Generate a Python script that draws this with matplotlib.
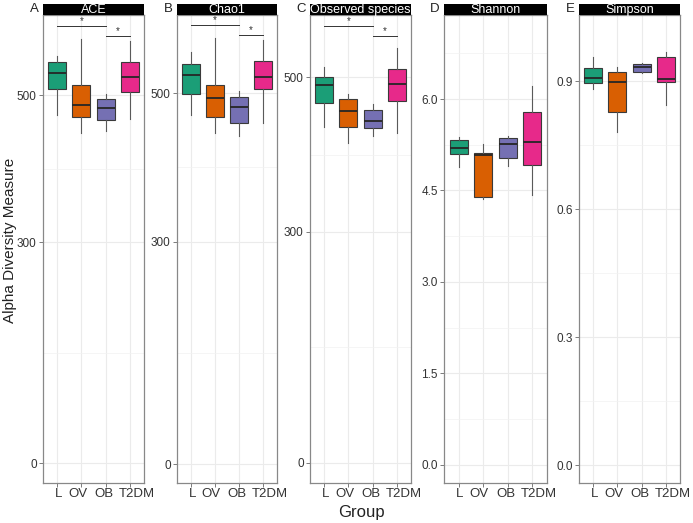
import matplotlib.pyplot as plt
from matplotlib.ticker import FixedLocator
from matplotlib.transforms import ScaledTranslation

plt.rcParams['font.family'] = ['Liberation Sans', 'DejaVu Sans']

groups = ['L', 'OV', 'OB', 'T2DM']
colors = ['#1B9E77', '#D95F02', '#7570B3', '#E7298A']

# box statistics, per measure, order L, OV, OB, T2DM
ace_whislo = [473, 449, 451, 468]
ace_q1 = [508, 471, 466, 504]
ace_med = [530, 487, 482, 525]
ace_q3 = [545, 514, 495, 545]
ace_whishi = [553, 577, 501, 573]

chao_whislo = [470, 446, 442, 460]
chao_q1 = [499, 468, 460, 505]
chao_med = [524, 493, 481, 521]
chao_q3 = [539, 511, 495, 543]
chao_whishi = [555, 574, 503, 572]

obs_whislo = [436, 415, 424, 428]
obs_q1 = [467, 436, 434, 470]
obs_med = [490, 456, 444, 492]
obs_q3 = [501, 472, 458, 511]
obs_whishi = [513, 478, 466, 538]

shan_whislo = [4.89, 4.36, 4.91, 4.42]
shan_q1 = [5.10, 4.40, 5.04, 4.92]
shan_med = [5.20, 5.08, 5.26, 5.29]
shan_q3 = [5.33, 5.11, 5.36, 5.79]
shan_whishi = [5.38, 5.26, 5.40, 6.21]

simp_whislo = [0.881, 0.781, 0.920, 0.845]
simp_q1 = [0.895, 0.827, 0.922, 0.898]
simp_med = [0.908, 0.899, 0.934, 0.904]
simp_q3 = [0.930, 0.922, 0.939, 0.957]
simp_whishi = [0.956, 0.932, 0.942, 0.968]

titles = ['ACE', 'Chao1', 'Observed species', 'Shannon', 'Simpson']
letters = ['A', 'B', 'C', 'D', 'E']
stats_all = [
    (ace_whislo, ace_q1, ace_med, ace_q3, ace_whishi),
    (chao_whislo, chao_q1, chao_med, chao_q3, chao_whishi),
    (obs_whislo, obs_q1, obs_med, obs_q3, obs_whishi),
    (shan_whislo, shan_q1, shan_med, shan_q3, shan_whishi),
    (simp_whislo, simp_q1, simp_med, simp_q3, simp_whishi),
]
yticks = [[0, 300, 500], [0, 300, 500], [0, 300, 500],
          [0, 1.5, 3, 4.5, 6], [0, 0.3, 0.6, 0.9]]
yminor = [[150, 400], [150, 400], [150, 400],
          [0.75, 2.25, 3.75, 5.25, 6.75], [0.15, 0.45, 0.75]]
ytick_labels = [['0', '300', '500'], ['0', '300', '500'], ['0', '300', '500'],
                ['0.0', '1.5', '3.0', '4.5', '6.0'], ['0.0', '0.3', '0.6', '0.9']]
ylims = [(-27, 609), (-25, 605), (-26, 581), (-0.30, 7.38), (-0.042, 1.055)]

# significance brackets: (group a, group b, height)
sig_pairs = [[(1, 3, 594), (3, 4, 581)],
             [(1, 3, 591), (3, 4, 578)],
             [(1, 3, 567), (3, 4, 554)],
             [], []]

W, H = 693, 523
lefts = [43, 177, 310, 444, 579]
widths = [101, 100, 101, 103, 101]
top, bottom = 15, 483
label_shift = [1, -4, -2, 7]  # px, the crowded x labels are nudged apart

fig = plt.figure(figsize=(W / 100, H / 100), dpi=100)

for i in range(5):
    l, w = lefts[i], widths[i]
    ax = fig.add_axes([l / W, (H - bottom) / H, w / W, (bottom - top) / H])
    wl, q1, med, q3, wh = stats_all[i]
    st = [dict(whislo=wl[k], q1=q1[k], med=med[k], q3=q3[k], whishi=wh[k], fliers=[])
          for k in range(4)]
    bp = ax.bxp(st, positions=[1, 2, 3, 4], widths=0.75, patch_artist=True,
                showfliers=False, showcaps=False,
                boxprops=dict(edgecolor='#3a3a3a', linewidth=0.8),
                medianprops=dict(color='#262626', linewidth=1.3),
                whiskerprops=dict(color='#5a5a5a', linewidth=0.8))
    for patch, c in zip(bp['boxes'], colors):
        patch.set_facecolor(c)

    for a, b, h in sig_pairs[i]:
        ax.plot([a, b], [h, h], color='#333333', linewidth=0.7)
        ax.text((a + b) / 2, h, '*', ha='center', va='bottom', fontsize=7,
                color='#333333')

    ax.set_xlim(0.4, 4.6)
    ax.set_ylim(*ylims[i])
    ax.set_xticks([1, 2, 3, 4])
    ax.set_xticklabels([''] * 4)
    for k, (g, dx) in enumerate(zip(groups, label_shift)):
        tr = ax.get_xaxis_transform() + ScaledTranslation(dx / 100, -5 / 100,
                                                          fig.dpi_scale_trans)
        ax.text(k + 1, 0, g, transform=tr, ha='center', va='top', fontsize=9.5,
                color='#333333', clip_on=False)
    ax.set_yticks(yticks[i])
    ax.set_yticklabels(ytick_labels[i], fontsize=8.5, color='#333333')
    ax.yaxis.set_minor_locator(FixedLocator(yminor[i]))
    ax.tick_params(axis='both', which='major', length=3, width=0.6,
                   color='#666666', pad=1.5)
    ax.tick_params(axis='y', which='minor', length=0)
    ax.set_axisbelow(True)
    ax.grid(True, which='major', color='#ebebeb', linewidth=0.8)
    ax.grid(True, which='minor', axis='y', color='#f2f2f2', linewidth=0.5)
    for sp in ax.spines.values():
        sp.set_color('#888888')
        sp.set_linewidth(0.9)

    # strip header
    sax = fig.add_axes([l / W, (H - top) / H, w / W, 11 / H])
    sax.set_facecolor('black')
    sax.set_xticks([])
    sax.set_yticks([])
    for sp in sax.spines.values():
        sp.set_visible(False)
    sax.text(0.5, 0.45, titles[i], color='white', fontsize=9,
             ha='center', va='center', transform=sax.transAxes)

    fig.text((l - 9) / W, (H - 9) / H, letters[i], fontsize=9.5,
             ha='center', va='center', color='#222222')

fig.text(10 / W, (H - 240) / H, 'Alpha Diversity Measure', rotation=90,
         fontsize=11, ha='center', va='center', color='#222222')
fig.text(361 / W, 11 / H, 'Group', fontsize=12, ha='center', va='center',
         color='#222222')

fig.savefig('out.png', dpi=100)
